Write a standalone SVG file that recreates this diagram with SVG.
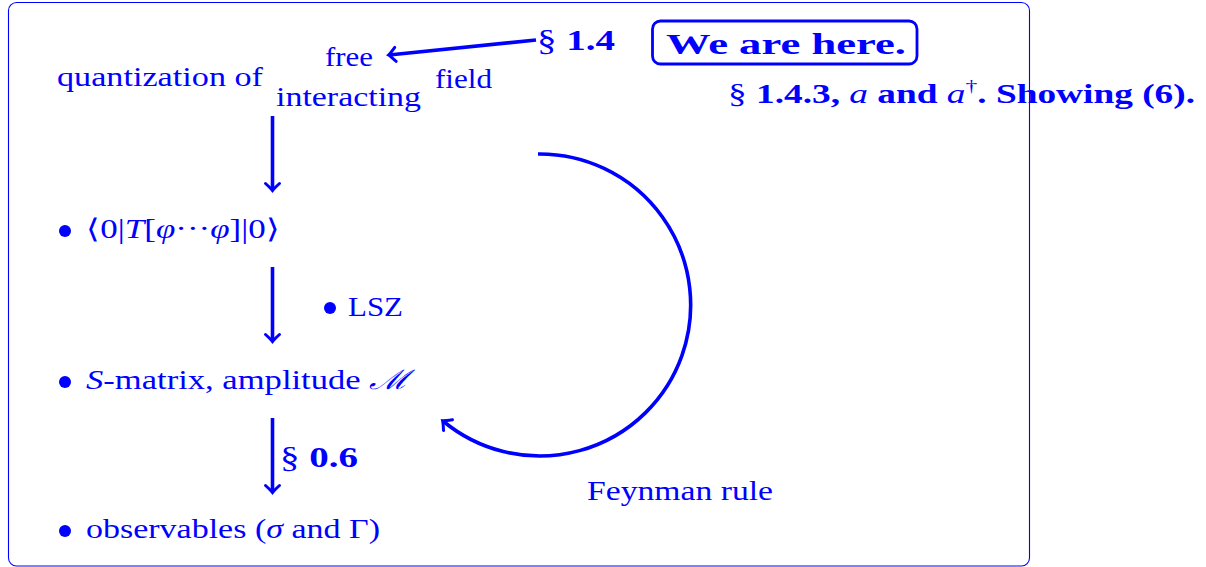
<svg xmlns="http://www.w3.org/2000/svg" width="1206" height="567" viewBox="0 0 1206 567">
<defs>
<style>
text{font-family:"Liberation Serif","Times New Roman",Tinos,serif;fill:#0000ff;font-size:27px}
.b{font-weight:bold}
.i{font-style:italic}
.big{font-size:29px}
.conn{fill:none;stroke:#0000ff;stroke-width:3.6}
.dot{fill:#0000ff}
</style>
<marker id="ah" markerUnits="userSpaceOnUse" markerWidth="20" markerHeight="20" viewBox="-10 -10 20 20" refX="0" refY="0" orient="auto" overflow="visible">
<path d="M-6.5,-7 Q-1.5,-1.5 0.5,0 Q-1.5,1.5 -6.5,7" fill="none" stroke="#0000ff" stroke-width="3" stroke-linecap="round"/>
</marker>
</defs>
<rect x="8.5" y="2.5" width="1021" height="563.5" rx="8" fill="none" stroke="#0000ff" stroke-width="1.1"/>
<g id="connectors">
<path class="conn" d="M536,40 L389,55" marker-end="url(#ah)"/>
<path class="conn" d="M272.5,116 L272.5,190" marker-end="url(#ah)"/>
<path class="conn" d="M272.5,267 L272.5,341" marker-end="url(#ah)"/>
<path class="conn" d="M272.5,418 L272.5,492" marker-end="url(#ah)"/>
<path class="conn" d="M538,154 A151,151 0 1 1 443,421" marker-end="url(#ah)"/>
</g>
<g id="quantization">
<text x="57" y="86" textLength="206" lengthAdjust="spacingAndGlyphs">quantization of</text>
<text x="325" y="66" textLength="48" lengthAdjust="spacingAndGlyphs">free</text>
<text x="276" y="106" textLength="145" lengthAdjust="spacingAndGlyphs">interacting</text>
<text x="435" y="88" textLength="57" lengthAdjust="spacingAndGlyphs">field</text>
</g>
<g id="sec14">
<text x="537" y="50" class="big" textLength="78" lengthAdjust="spacingAndGlyphs">§ <tspan class="b">1.4</tspan></text>
</g>
<g id="here">
<rect x="652.5" y="21" width="264.5" height="43" rx="8" fill="none" stroke="#0000ff" stroke-width="2.8"/>
<text x="666" y="54" class="b big" textLength="240" lengthAdjust="spacingAndGlyphs">We are here.</text>
</g>
<g id="sec143">
<text x="728" y="103" textLength="467" lengthAdjust="spacingAndGlyphs">§ <tspan class="b">1.4.3, </tspan><tspan class="i">a</tspan><tspan class="b"> and </tspan><tspan class="i">a</tspan><tspan font-size="17" dy="-11">†</tspan><tspan class="b" dy="11">. Showing (6).</tspan></text>
</g>
<g id="correlator">
<circle class="dot" cx="65" cy="231" r="6"/>
<text x="86" y="238" textLength="194" lengthAdjust="spacingAndGlyphs">⟨0|<tspan class="i">T</tspan>[<tspan class="i">φ</tspan>···<tspan class="i">φ</tspan>]|0⟩</text>
</g>
<g id="lsz">
<circle class="dot" cx="330" cy="308" r="6"/>
<text x="348" y="316" textLength="55" lengthAdjust="spacingAndGlyphs">LSZ</text>
</g>
<g id="smatrix">
<circle class="dot" cx="65" cy="382" r="6"/>
<text x="86" y="389" textLength="323" lengthAdjust="spacingAndGlyphs"><tspan class="i">S</tspan>-matrix, amplitude <tspan class="i">ℳ</tspan></text>
</g>
<g id="sec06">
<text x="280" y="467" class="big" textLength="78" lengthAdjust="spacingAndGlyphs">§ <tspan class="b">0.6</tspan></text>
</g>
<g id="observables">
<circle class="dot" cx="65" cy="531" r="6"/>
<text x="86" y="538" textLength="294" lengthAdjust="spacingAndGlyphs">observables (<tspan class="i">σ</tspan> and Γ)</text>
</g>
<g id="feynman">
<text x="587" y="500" textLength="186" lengthAdjust="spacingAndGlyphs">Feynman rule</text>
</g>
</svg>
